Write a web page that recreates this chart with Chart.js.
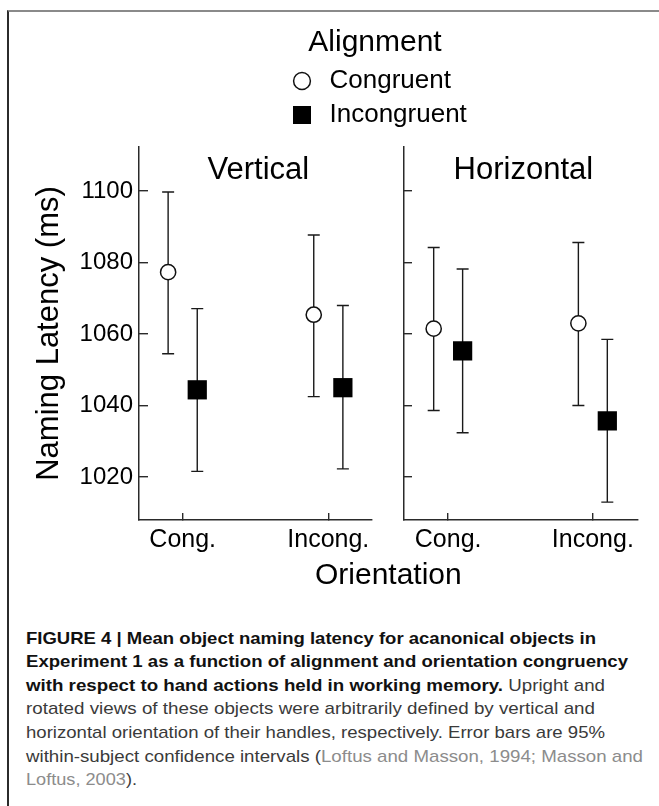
<!DOCTYPE html>
<html><head><meta charset="utf-8">
<script src="https://cdn.jsdelivr.net/npm/chart.js@4.4.1/dist/chart.umd.min.js"></script>
<style>
html,body{margin:0;padding:0;background:#fff;}
body{width:659px;height:806px;position:relative;overflow:hidden;font-family:"Liberation Sans",Arial,sans-serif;}
#frame{position:absolute;left:7px;top:10px;width:700px;height:820px;border-top:2px solid #8a8a8a;border-left:2px solid #2b2b2b;box-sizing:border-box;}
#chart{position:absolute;left:0;top:0;}
#caption{position:absolute;left:26px;top:626.6px;font-size:17px;line-height:23.6px;color:#3a3a3a;}
#caption .ln{white-space:nowrap;transform-origin:0 50%;display:block;width:max-content;}
#caption b{color:#111;}
#caption .ref{color:#8c8c8c;}
</style></head><body>
<div id="frame"></div>
<canvas id="chart" width="659" height="600"></canvas>
<div id="caption">
<div class="ln"><b>FIGURE 4 | Mean object naming latency for acanonical objects in</b></div>
<div class="ln"><b>Experiment 1 as a function of alignment and orientation congruency</b></div>
<div class="ln"><b>with respect to hand actions held in working memory.</b> Upright and</div>
<div class="ln">rotated views of these objects were arbitrarily defined by vertical and</div>
<div class="ln">horizontal orientation of their handles, respectively. Error bars are 95%</div>
<div class="ln">within-subject confidence intervals (<span class="ref">Loftus and Masson, 1994; Masson and</span></div>
<div class="ln"><span class="ref">Loftus, 2003</span>).</div>
</div>
<script>
// ---------- data ----------
const categories = ['Cong.', 'Incong.'];
const panels = ['Vertical', 'Horizontal'];
const seriesNames = ['Congruent', 'Incongruent'];
const yTicks = [1020, 1040, 1060, 1080, 1100];

// Vertical panel
const vertCongMean = [1077.3, 1065.4];
const vertCongLow  = [1054.5, 1042.5];
const vertCongHigh = [1099.7, 1087.7];
const vertIncMean  = [1044.4, 1045.0];
const vertIncLow   = [1021.6, 1022.3];
const vertIncHigh  = [1067.1, 1068.0];

// Horizontal panel
const horCongMean = [1061.5, 1063.0];
const horCongLow  = [1038.6, 1040.0];
const horCongHigh = [1084.2, 1085.6];
const horIncMean  = [1055.3, 1035.7];
const horIncLow   = [1032.4, 1013.0];
const horIncHigh  = [1078.2, 1058.5];

// ---------- styling ----------
const FONT = '"Liberation Sans", Arial, sans-serif';
Chart.defaults.font.family = FONT;
Chart.defaults.color = '#000';
const DODGE = 0.1;
const AXIS_COLOR = '#2a2a2a';
const panelAxes = ['x1', 'x2'];

function pts(means, offset) { return means.map((m, i) => ({x: i + 1 + offset, y: m})); }

const circleStyle = {pointStyle: 'circle', pointRadius: 7.6, pointBorderWidth: 1.5, pointBorderColor: '#111', pointBackgroundColor: '#fff', showLine: false};
const squareStyle = {pointStyle: 'rect', pointRadius: 13.6, pointBorderWidth: 0, pointBorderColor: '#000', pointBackgroundColor: '#000', showLine: false};

// legend marker images
function markerImage(kind) {
  const c = document.createElement('canvas');
  const s = kind === 'circle' ? 20 : 18;
  c.width = s; c.height = s;
  const g = c.getContext('2d');
  if (kind === 'circle') {
    g.beginPath(); g.arc(s / 2, s / 2, 8.4, 0, Math.PI * 2);
    g.fillStyle = '#fff'; g.fill();
    g.lineWidth = 1.5; g.strokeStyle = '#111'; g.stroke();
  } else {
    g.fillStyle = '#000'; g.fillRect(0, 0, s, s);
  }
  return c;
}
const legendMarkers = [markerImage('circle'), markerImage('square')];

const errorBars = {
  id: 'errorBars',
  beforeDatasetsDraw(chart) {
    const ctx = chart.ctx;
    const y = chart.scales.y;
    ctx.save();
    ctx.strokeStyle = '#1a1a1a';
    ctx.lineWidth = 1.4;
    chart.data.datasets.forEach((ds, di) => {
      const meta = chart.getDatasetMeta(di);
      ds.errLow.forEach((lo, i) => {
        const px = meta.data[i].x;
        const yl = y.getPixelForValue(lo);
        const yh = y.getPixelForValue(ds.errHigh[i]);
        ctx.beginPath();
        ctx.moveTo(px, yl); ctx.lineTo(px, yh);
        ctx.moveTo(px - 6, yl); ctx.lineTo(px + 6, yl);
        ctx.moveTo(px - 6, yh); ctx.lineTo(px + 6, yh);
        ctx.stroke();
      });
    });
    ctx.restore();
  }
};

const panelTitles = {
  id: 'panelTitles',
  afterDraw(chart) {
    const ctx = chart.ctx;
    ctx.save();
    ctx.font = '31px ' + FONT;
    ctx.fillStyle = '#000';
    ctx.textAlign = 'center';
    ctx.textBaseline = 'alphabetic';
    panelAxes.forEach((id, i) => {
      const s = chart.scales[id];
      ctx.fillText(panels[i], s.getPixelForValue(1.52), chart.chartArea.top + 32);
    });
    ctx.restore();
  }
};

const legendPlacer = {
  id: 'legendPlacer',
  afterLayout(chart) {
    const lg = chart.legend;
    lg.left = 279.5; lg.width = 191; lg.right = lg.left + lg.width;
    lg.top = 27.5; lg.height = 120; lg.bottom = lg.top + lg.height;
  }
};

const yTickBuilder = s => { s.ticks = yTicks.map(v => ({value: v})); };
const xTickBuilder = s => { s.ticks = categories.map((c, i) => ({value: i + 1})); };
const noPad = s => { s.paddingLeft = 0; s.paddingRight = 0; s.paddingTop = 0; s.paddingBottom = 0; };
const gridOpts = (len) => ({drawOnChartArea: false, drawTicks: true, tickLength: len, color: AXIS_COLOR, lineWidth: 1.4});
const borderOpts = {display: true, color: AXIS_COLOR, width: 1.5};
const X_H = 37.5;

const xAxis = (weight, stackWeight, min, max) => ({
  type: 'linear', axis: 'x', position: 'bottom', stack: 'orient', stackWeight, weight, min, max,
  afterBuildTicks: xTickBuilder,
  afterFit: s => { s.height = X_H; noPad(s); },
  ticks: {callback: v => categories[Math.round(v) - 1], font: {size: 25}, color: '#000', padding: 12, maxRotation: 0, autoSkip: false},
  grid: gridOpts(-7),
  border: borderOpts
});

new Chart(document.getElementById('chart'), {
  type: 'scatter',
  data: {
    datasets: [
      {label: seriesNames[0], xAxisID: 'x1', yAxisID: 'y', data: pts(vertCongMean, -DODGE), errLow: vertCongLow, errHigh: vertCongHigh, ...circleStyle},
      {label: seriesNames[1], xAxisID: 'x1', yAxisID: 'y', data: pts(vertIncMean, DODGE), errLow: vertIncLow, errHigh: vertIncHigh, ...squareStyle},
      {label: seriesNames[0], xAxisID: 'x2', yAxisID: 'y', data: pts(horCongMean, -DODGE), errLow: horCongLow, errHigh: horCongHigh, ...circleStyle},
      {label: seriesNames[1], xAxisID: 'x2', yAxisID: 'y', data: pts(horIncMean, DODGE), errLow: horIncLow, errHigh: horIncHigh, ...squareStyle}
    ]
  },
  options: {
    responsive: false,
    animation: false,
    events: [],
    layout: {padding: {left: 0, top: 147, right: 21.3, bottom: 6.5}},
    scales: {
      y: {
        type: 'linear', axis: 'y', position: 'left', min: 1008, max: 1112.3,
        afterBuildTicks: yTickBuilder,
        afterFit: s => { s.width = 139; noPad(s); },
        ticks: {font: {size: 24}, color: '#000', padding: 15, callback: v => String(v)},
        grid: gridOpts(-9),
        border: borderOpts,
        title: {display: true, text: 'Naming Latency (ms)', font: {size: 31}, color: '#000', padding: {top: 31, bottom: 0}}
      },
      x1: xAxis(1, 233, 0.7, 2.3),
      xg: {
        type: 'linear', axis: 'x', position: 'bottom', stack: 'orient', stackWeight: 31.3, weight: 2, min: 0, max: 1,
        afterBuildTicks: s => { s.ticks = []; },
        afterFit: s => { s.height = X_H; noPad(s); },
        ticks: {display: false}, grid: {display: false}, border: {display: false}
      },
      x2: xAxis(3, 234.4, 0.69, 2.31),
      y2: {
        type: 'linear', axis: 'y', position: {x2: 0.69}, min: 1008, max: 1112.3,
        afterBuildTicks: yTickBuilder,
        afterFit: s => { noPad(s); },
        ticks: {display: false},
        grid: gridOpts(-9),
        border: borderOpts
      }
    },
    plugins: {
      tooltip: {enabled: false},
      legend: {
        display: true, position: 'chartArea', align: 'start',
        title: {display: true, text: 'Alignment', color: '#000', font: {size: 30, lineHeight: 1}, padding: {top: 0, bottom: 2.5}, position: 'center'},
        labels: {
          usePointStyle: true, pointStyleWidth: 29, font: {size: 26}, color: '#000', padding: 8,
          generateLabels: () => seriesNames.map((name, i) => ({
            text: name, pointStyle: legendMarkers[i], datasetIndex: i, hidden: false,
            fontColor: '#000', fillStyle: '#000', strokeStyle: '#000', lineWidth: 0
          }))
        }
      },
      title: {
        display: true, text: 'Orientation', position: 'bottom', fullSize: false, color: '#000',
        font: {size: 30, weight: 'normal', lineHeight: 1.2}, padding: 0
      }
    }
  },
  plugins: [errorBars, panelTitles, legendPlacer]
});

// fit caption lines to the reference line lengths
const lineEnds = [596, 628, 605, 595, 605, 643, 137];
document.querySelectorAll('#caption .ln').forEach((el, i) => {
  const w = el.getBoundingClientRect().width;
  el.style.transform = 'scaleX(' + ((lineEnds[i] - 26) / w) + ')';
});
</script>
</body></html>
